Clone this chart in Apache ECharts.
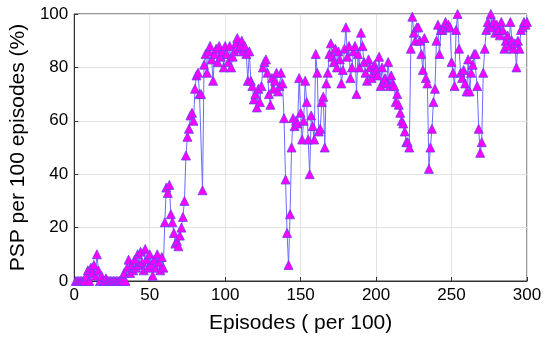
<!DOCTYPE html>
<html>
<head>
<meta charset="utf-8">
<script src="https://cdn.jsdelivr.net/npm/echarts@6/dist/echarts.min.js"></script>
<style>html,body{margin:0;padding:0;background:#fff;}#c{width:550px;height:347px;}</style>
</head>
<body>
<div id="c"></div>
<script>
const xTicks = [0, 50, 100, 150, 200, 250, 300];
const yTicks = [0, 20, 40, 60, 80, 100];
const psp = [
  0,0,0,0,0,0,0,2,4,0,
  5,3,6,2,10,4,0,2,0,0,
  1,0,0,0,0,0,0,0,0,0,
  0,0,3,0,5,8,3,6,4,8,
  5,10,6,11,7,4,12,8,5,10,
  6,2,8,5,10,7,4,9,5,22,
  35,33,36,25,22,18,14,15,13,17,
  20,24,30,47,54,57,62,63,60,72,
  77,78,70,70,34,81,85,78,86,88,
  83,75,85,87,82,88,84,86,80,88,
  85,82,88,80,84,86,89,91,87,88,
  90,86,88,85,75,86,75,73,68,70,
  65,72,67,73,80,82,83,78,70,66,
  76,72,75,78,71,73,78,74,61,38,
  18,6,25,50,61,58,60,59,76,63,
  53,60,75,67,53,40,62,58,53,85,
  78,56,57,67,69,50,74,78,85,89,
  84,82,87,80,86,83,74,79,87,95,
  84,88,76,80,86,88,70,85,80,93,
  88,82,78,75,83,80,76,78,81,79,
  77,84,73,80,75,76,74,82,73,77,
  74,73,67,70,66,63,60,59,56,52,
  52,50,87,99,93,90,95,95,90,85,
  79,91,76,74,42,50,57,67,72,90,
  96,85,94,94,95,97,95,96,95,82,
  78,73,94,100,87,78,76,79,74,71,
  83,71,78,81,85,85,73,57,48,52,
  78,87,94,97,95,100,95,97,93,96,
  94,92,97,94,87,90,92,88,97,90,
  87,89,80,90,87,94,95,97,96,97
];
const episodes = psp.map((v, i) => i + 1);
const seriesData = episodes.map((e, i) => [e, psp[i]]);

const font = 'Liberation Sans, Arial, sans-serif';
const chart = echarts.init(document.getElementById('c'), null, {renderer: 'canvas'});
chart.setOption({
  animation: false,
  grid: {left: 73, right: 23, top: 14, bottom: 66, show: true, borderColor: '#333', borderWidth: 1, backgroundColor: 'transparent'},
  xAxis: {
    type: 'value', min: xTicks[0], max: xTicks[xTicks.length - 1], interval: 50,
    name: 'Episodes ( per 100)', nameLocation: 'middle', nameGap: 32,
    nameTextStyle: {fontFamily: font, fontSize: 21, color: '#000'},
    axisLine: {show: true, lineStyle: {color: '#333', width: 1}},
    axisTick: {show: true, inside: true, length: 4, lineStyle: {color: '#333'}},
    axisLabel: {fontFamily: font, fontSize: 17, color: '#000', margin: 6},
    splitLine: {show: true, lineStyle: {color: '#e3e3e3', width: 1}}
  },
  yAxis: {
    type: 'value', min: yTicks[0], max: yTicks[yTicks.length - 1], interval: 20,
    name: 'PSP per 100 episodes (%)', nameLocation: 'middle', nameGap: 40,
    nameTextStyle: {fontFamily: font, fontSize: 21, color: '#000'},
    axisLine: {show: true, lineStyle: {color: '#333', width: 1}},
    axisTick: {show: true, inside: true, length: 4, lineStyle: {color: '#333'}},
    axisLabel: {fontFamily: font, fontSize: 17, color: '#000', margin: 6},
    splitLine: {show: true, lineStyle: {color: '#e3e3e3', width: 1}}
  },
  series: [{
    type: 'line',
    data: seriesData,
    symbol: 'triangle',
    symbolSize: 9,
    showAllSymbol: true,
    lineStyle: {color: '#6b6bff', width: 1},
    itemStyle: {color: '#ff00ff', borderColor: '#6a3df0', borderWidth: 0.8},
    emphasis: {disabled: true}
  }]
});
</script>
</body>
</html>
